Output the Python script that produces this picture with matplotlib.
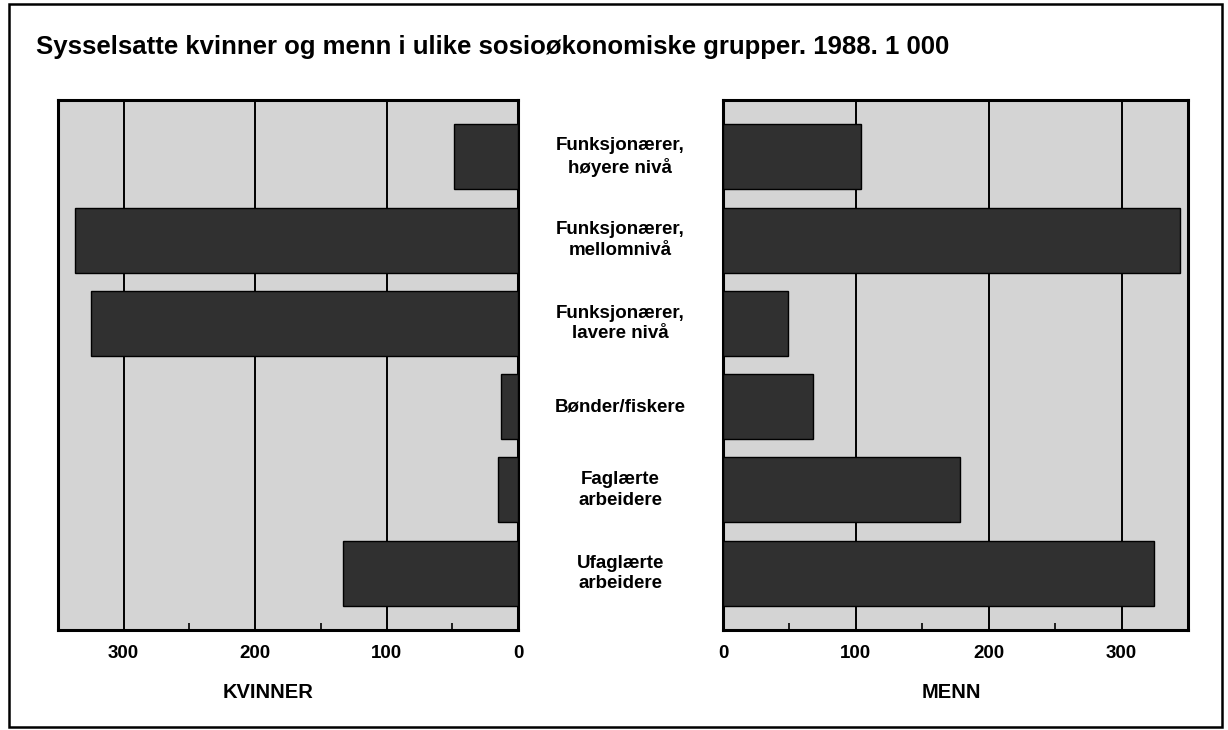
import numpy as np
import matplotlib.pyplot as plt
from matplotlib.patches import Rectangle

# Employed women and men by socio-economic group, 1988 (1 000)
categories = ["Funksjonærer,\nhøyere nivå", "Funksjonærer,\nmellomnivå", "Funksjonærer,\nlavere nivå",
              "Bønder/fiskere", "Faglærte\narbeidere", "Ufaglærte\narbeidere"]
kvinner = [49, 337, 325, 13, 15, 133]
menn = [104, 344, 49, 68, 178, 324]
tick_vals = [0, 100, 200, 300]
title = "Sysselsatte kvinner og menn i ulike sosioøkonomiske grupper. 1988. 1 000"

plt.rcParams['font.family'] = ['Liberation Sans', 'DejaVu Sans']

BG = '#d4d4d4'
BAR = '#303030'

fig = plt.figure(figsize=(12.28, 7.30), dpi=100)

# outer frame
fig.patches.append(Rectangle((0.007, 0.004), 0.988, 0.99, transform=fig.transFigure,
                             fill=False, edgecolor='black', linewidth=1.8))

fig.text(0.029, 0.936, title, fontsize=18.5, fontweight='bold', ha='left', va='center')

ax_l = fig.add_axes([0.0472, 0.137, 0.3746, 0.726])
ax_r = fig.add_axes([0.5888, 0.137, 0.3787, 0.726])

y = np.arange(len(categories))

for ax, vals in [(ax_l, kvinner), (ax_r, menn)]:
    ax.set_facecolor(BG)
    ax.barh(y, vals, height=0.78, color=BAR, edgecolor='black', linewidth=1.0, zorder=3)
    ax.set_xlim(0, 350)
    ax.set_ylim(5.68, -0.68)
    for v in tick_vals[1:]:
        ax.axvline(v, color='black', linewidth=1.4, zorder=2)
    ax.set_yticks([])
    ax.set_xticks(tick_vals)
    ax.set_xticks([50, 150, 250], minor=True)
    ax.tick_params(axis='x', which='major', length=0, pad=11, labelsize=13.5)
    ax.tick_params(axis='x', which='minor', direction='in', length=5, width=1.2)
    for lab in ax.get_xticklabels():
        lab.set_fontweight('bold')
    for s in ax.spines.values():
        s.set_linewidth(2.2)

ax_l.invert_xaxis()

for i, cat in enumerate(categories):
    yy = ax_l.transData.transform((0, i))[1]
    yf = fig.transFigure.inverted().transform((0, yy))[1]
    fig.text(0.505, yf, cat, fontsize=13.5, fontweight='bold', ha='center', va='center',
             linespacing=1.25)

fig.text(0.218, 0.052, "KVINNER", fontsize=14.5, fontweight='bold', ha='center', va='center')
fig.text(0.775, 0.052, "MENN", fontsize=14.5, fontweight='bold', ha='center', va='center')

fig.savefig("out.png", dpi=100)
